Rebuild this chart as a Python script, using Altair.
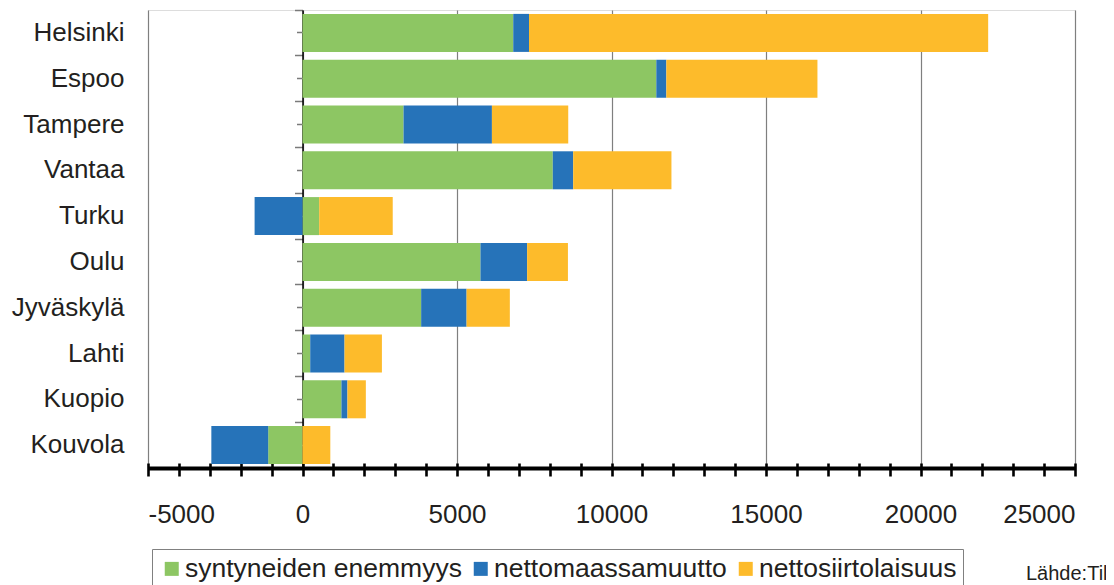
import altair as alt
import pandas as pd

cities = ["Helsinki", "Espoo", "Tampere", "Vantaa", "Turku", "Oulu",
          "Jyväskylä", "Lahti", "Kuopio", "Kouvola"]
series = ["syntyneiden enemmyys", "nettomaassamuutto", "nettosiirtolaisuus"]
colors = ["#8DC663", "#2673B9", "#FDBB2B"]

syntyneiden = [6820, 11450, 3270, 8100, 540, 5760, 3840, 250, 1260, -1110]
maassamuutto = [510, 325, 2860, 660, -1550, 1510, 1470, 1110, 195, -1840]
siirtolaisuus = [14860, 4890, 2470, 3180, 2380, 1320, 1400, 1210, 595, 900]

x_ticks_major = [-5000, 0, 5000, 10000, 15000, 20000, 25000]
x_ticks_minor = list(range(-5000, 25001, 1000))
source_text = "Lähde:Tilastokeskus"

rows = []
for i, c in enumerate(cities):
    for k, (s, vals) in enumerate(zip(series, [syntyneiden, maassamuutto, siirtolaisuus])):
        rows.append({"city": c, "series": s, "value": vals[i], "idx": k})
df = pd.DataFrame(rows)

FONT = "Liberation Sans"
TXT = "#231f20"
W, H = 927, 458

yscale = alt.Scale(paddingInner=0.17, paddingOuter=0.085)
xscale = alt.Scale(domain=[-5000, 25000], nice=False, zero=False)

base = alt.Chart(df)

bars = base.mark_bar().encode(
    x=alt.X("value:Q", stack="zero", scale=xscale, title=None,
            axis=alt.Axis(orient="bottom", values=x_ticks_major, grid=True,
                          gridColor="#7f7f7f", gridWidth=1.2, ticks=False, tickSize=0,
                          domain=True, domainColor="black", domainWidth=4,
                          labelFontSize=26, labelPadding=33, labelColor=TXT,
                          labelFont=FONT,
                          labelExpr="datum.value < 0 ? '-' + abs(datum.value) : '' + datum.value")),
    y=alt.Y("city:N", sort=cities, scale=yscale, title=None,
            axis=alt.Axis(orient="left", ticks=False, tickSize=0, domain=False,
                          labelFontSize=26, labelPadding=24, labelColor=TXT,
                          labelFont=FONT, labelLimit=300)),
    color=alt.Color("series:N", sort=series,
                    scale=alt.Scale(domain=series, range=colors),
                    legend=alt.Legend(title=None, orient="none", legendX=4, legendY=539,
                                      direction="horizontal", strokeColor="#808080",
                                      padding=6.5, symbolType="square", symbolSize=196,
                                      symbolStrokeWidth=0, labelFontSize=26.5,
                                      labelFont=FONT, labelColor=TXT, labelOffset=0,
                                      labelLimit=0, columnPadding=5, symbolOffset=0)),
    order=alt.Order("idx:Q"),
)

ticks_layer = base.mark_bar(opacity=0).encode(
    x=alt.X("value:Q", stack="zero", scale=xscale, title=None,
            axis=alt.Axis(orient="bottom", values=x_ticks_minor, offset=-5, tickSize=13,
                          tickWidth=2.6, tickColor="black", labels=False, domain=False,
                          grid=False)),
    y=alt.Y("city:N", sort=cities, scale=yscale, title=None,
            axis=alt.Axis(orient="left", offset=-154.5, bandPosition=-0.1024, tickSize=8,
                          tickWidth=1.5, tickColor="#7a7a7a", labels=False, domain=True,
                          domainColor="black", domainWidth=1.5, grid=False)),
    order=alt.Order("idx:Q"),
)

center_ticks = base.mark_bar(opacity=0).encode(
    x=alt.X("value:Q", stack="zero", scale=xscale, title=None, axis=None),
    y=alt.Y("city:N", sort=cities, scale=yscale, title=None,
            axis=alt.Axis(orient="left", offset=-154.5, bandPosition=0.5, tickSize=6,
                          tickWidth=1.5, tickColor="#7a7a7a", labels=False, domain=False,
                          grid=False)),
    order=alt.Order("idx:Q"),
)

source = alt.Chart(pd.DataFrame({"t": [source_text]})).mark_text(
    align="left", baseline="alphabetic", fontSize=20, font=FONT, color=TXT
).encode(text="t:N", x=alt.value(878), y=alt.value(570))

chart = alt.layer(bars, ticks_layer, center_ticks, source).resolve_axis(
    x="independent", y="independent"
).properties(
    width=W, height=H,
    autosize=alt.AutoSizeParams(type="none"),
    padding={"left": 140, "top": 2, "right": 31, "bottom": 117},
).configure_view(stroke="#6d6d6d", strokeWidth=1.5).configure(background="white")

chart.save("out.html", embed_options={"renderer": "svg", "actions": False})
